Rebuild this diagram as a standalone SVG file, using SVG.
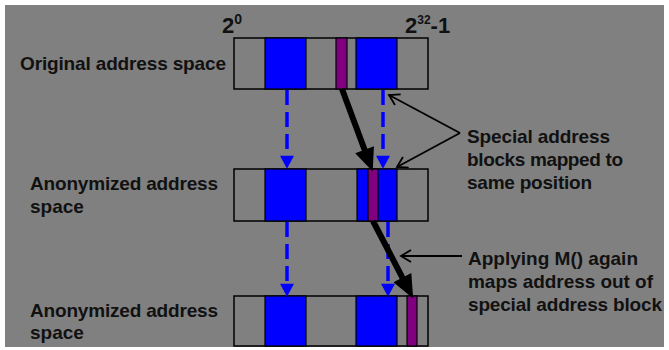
<svg xmlns="http://www.w3.org/2000/svg" width="669" height="350" viewBox="0 0 669 350">
<style>
text{font-family:"Liberation Sans",Arial,sans-serif;font-weight:bold;fill:#111;}
.lbl{font-size:19px;}
.frame{fill:#808080;stroke:#000;stroke-width:1.5;}
.blue{fill:#0000ff;stroke:#000;stroke-width:1.2;}
.purple{fill:#800080;stroke:#000;stroke-width:1.2;}
.dash{stroke:#0000ff;stroke-width:3.5;stroke-dasharray:15 7;fill:none;}
.thick{stroke:#000;stroke-width:6;fill:none;}
.thin{stroke:#000;stroke-width:1.8;fill:none;}
</style>
<defs>
<marker id="mBlue" markerUnits="userSpaceOnUse" markerWidth="14" markerHeight="14" viewBox="0 0 12 13" refX="2" refY="6.5" orient="auto"><path d="M0,0 L12,6.5 L0,13 z" fill="#0000ff"/></marker>
<marker id="mBlack" markerUnits="userSpaceOnUse" markerWidth="24" markerHeight="20" viewBox="0 0 21 18" refX="6" refY="9" orient="auto"><path d="M0,0 L21,9 L0,18 z" fill="#000"/></marker>
<marker id="mOpen" markerUnits="userSpaceOnUse" markerWidth="14" markerHeight="14" viewBox="-1 -1 13 14" refX="10" refY="6" orient="auto"><path d="M0,0 L10,6 L0,12" fill="none" stroke="#000" stroke-width="1.8"/></marker>
</defs>
<rect x="0" y="0" width="669" height="350" fill="#ffffff"/>
<rect x="5" y="5" width="659" height="342" fill="#808080"/>

<g id="axis-labels">
<text x="222" y="33" font-size="22">2<tspan font-size="14" dy="-9">0</tspan></text>
<text x="405" y="33" font-size="22">2<tspan font-size="12" dy="-9">32</tspan><tspan dy="9">-1</tspan></text>
</g>

<g id="row-original">
<text class="lbl" x="20" y="70" textLength="206" lengthAdjust="spacing">Original address space</text>
<rect class="frame" x="234" y="38" width="194" height="51"/>
<rect class="blue" x="265" y="38" width="41" height="51"/>
<rect class="purple" x="336" y="38" width="11" height="51"/>
<rect class="blue" x="356" y="38" width="41" height="51"/>
</g>

<g id="row-anon1">
<text class="lbl" x="30" y="190" textLength="188" lengthAdjust="spacing">Anonymized address</text>
<text class="lbl" x="30" y="213">space</text>
<rect class="frame" x="234" y="169" width="194" height="52"/>
<rect class="blue" x="265" y="169" width="41" height="52"/>
<rect class="blue" x="357" y="169" width="40" height="52"/>
<rect class="purple" x="368" y="169" width="10" height="52"/>
</g>

<g id="row-anon2">
<text class="lbl" x="30" y="317" textLength="188" lengthAdjust="spacing">Anonymized address</text>
<text class="lbl" x="30" y="339">space</text>
<rect class="frame" x="234" y="296" width="194" height="50"/>
<rect class="blue" x="265" y="296" width="41" height="50"/>
<rect class="blue" x="356" y="296" width="41" height="50"/>
<rect class="purple" x="407" y="296" width="10" height="50"/>
</g>

<g id="callout-same">
<text class="lbl" x="467" y="143" textLength="143" lengthAdjust="spacing">Special address</text>
<text class="lbl" x="467" y="166" textLength="156" lengthAdjust="spacing">blocks mapped to</text>
<text class="lbl" x="467" y="189" textLength="125" lengthAdjust="spacing">same position</text>
</g>

<g id="callout-again">
<text class="lbl" x="468" y="265" textLength="170" lengthAdjust="spacing">Applying M() again</text>
<text class="lbl" x="468" y="288" textLength="185" lengthAdjust="spacing">maps address out of</text>
<text class="lbl" x="468" y="311" textLength="194" lengthAdjust="spacing">special address block</text>
</g>

<g id="connectors">
<line class="dash" x1="287" y1="90" x2="287" y2="158" marker-end="url(#mBlue)"/>
<line class="dash" x1="383" y1="90" x2="383" y2="158" marker-end="url(#mBlue)"/>
<line class="dash" x1="287" y1="222" x2="287" y2="286" marker-end="url(#mBlue)"/>
<line class="dash" x1="388" y1="222" x2="388" y2="286" marker-end="url(#mBlue)"/>
<line class="thick" x1="342" y1="89" x2="366.9" y2="156" marker-end="url(#mBlack)"/>
<line class="thick" x1="373" y1="221" x2="405.5" y2="283.6" marker-end="url(#mBlack)"/>
<line class="thin" x1="460" y1="133" x2="389" y2="95" marker-end="url(#mOpen)"/>
<line class="thin" x1="460" y1="133" x2="397" y2="167" marker-end="url(#mOpen)"/>
<line class="thin" x1="462" y1="256" x2="401" y2="256" marker-end="url(#mOpen)"/>
</g>
</svg>
